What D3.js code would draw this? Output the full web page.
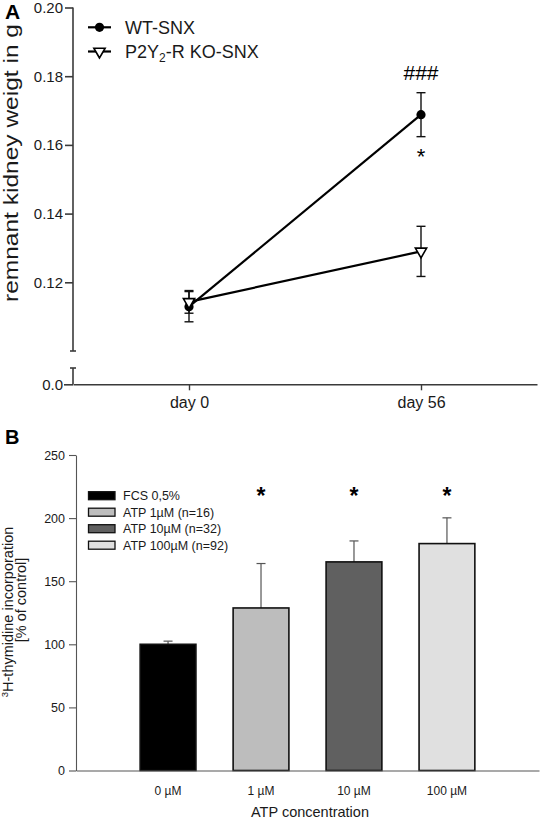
<!DOCTYPE html>
<html><head><meta charset="utf-8">
<script src="https://cdn.jsdelivr.net/npm/d3@7"></script>
<style>body{margin:0;background:#fff;} svg{display:block;font-family:Arial,"Liberation Sans",Helvetica,sans-serif;}</style>
</head><body>
<svg id="c" width="540" height="820"></svg>
<script>
// ---------- Panel A data ----------
const daysA = ["day 0", "day 56"];
const wtMean = [0.1129, 0.1688];
const wtSem = [0.0044, 0.0064];
const koMean = [0.1143, 0.1290];
const koSem = [0.0033, 0.0073];
const ticksA = [0.12, 0.14, 0.16, 0.18, 0.20];
const seriesA = ["WT-SNX", "P2Y2-R KO-SNX"];
const annotA = ["###", "*"];

// ---------- Panel B data ----------
const catsB = ["0 µM", "1 µM", "10 µM", "100 µM"];
const valsB = [100, 128.8, 165.3, 179.8];
const errB = [2.5, 35.2, 16.6, 20.4];
const legendB = ["FCS 0,5%", "ATP 1µM (n=16)", "ATP 10µM (n=32)", "ATP 100µM (n=92)"];
const sigB = ["", "*", "*", "*"];
const ticksB = [0, 50, 100, 150, 200, 250];
const colorsB = ["#000000", "#bdbdbd", "#606060", "#e0e0e0"];

const svg = d3.select("#c");

// ================= PANEL A =================
const gA = svg.append("g");
const yA = d3.scaleLinear().domain([0.10, 0.20]).range([351, 7.5]);
const yA0 = d3.scaleLinear().domain([0, 0.01]).range([384.3, 368]);
const xA = d3.scalePoint().domain(daysA).range([73, 537]).padding(0.5);
const axX = 73;

// y axis upper
const ya = gA.append("g").attr("transform", `translate(${axX},0)`)
  .call(d3.axisLeft(yA).tickValues(ticksA).tickSize(8).tickSizeOuter(0).tickFormat(d3.format(".2f")));
ya.select(".domain").remove();
ya.append("line").attr("x1", 0).attr("x2", 0).attr("y1", yA(0.20)).attr("y2", yA(0.10));
ya.append("line").attr("x1", -3).attr("x2", 3).attr("y1", yA(0.10)).attr("y2", yA(0.10));
// lower segment
const ya0 = gA.append("g").attr("transform", `translate(${axX},0)`)
  .call(d3.axisLeft(yA0).tickValues([0]).tickSize(9).tickSizeOuter(0).tickFormat(d3.format(".1f")));
ya0.select(".domain").remove();
ya0.append("line").attr("x1", 0).attr("x2", 0).attr("y1", yA0(0.01)).attr("y2", yA0(0));
ya0.append("line").attr("x1", -3).attr("x2", 3).attr("y1", yA0(0.01)).attr("y2", yA0(0.01));
[ya, ya0].forEach(g => {
  g.selectAll("line").attr("stroke", "#3a3a3a").attr("stroke-width", 1.6);
  g.selectAll("text").attr("font-size", 15).attr("fill", "#1a1a1a").attr("font-family", "Arial, Liberation Sans, sans-serif").attr("x", -10);
});

// x axis A
const xa = gA.append("g").attr("transform", `translate(0,${yA0(0)})`)
  .call(d3.axisBottom(xA).tickSize(6).tickSizeOuter(0).tickPadding(6));
xa.select(".domain").attr("stroke", "#3a3a3a").attr("stroke-width", 1.6);
xa.selectAll("line").attr("stroke", "#3a3a3a").attr("stroke-width", 1.4);
xa.selectAll("text").attr("font-size", 16).attr("fill", "#1a1a1a").attr("font-family", "Arial, Liberation Sans, sans-serif");

// y title A
gA.append("text").attr("transform", "translate(18,163) rotate(-90)").attr("text-anchor", "middle")
  .attr("font-size", 21).attr("textLength", 278).attr("lengthAdjust", "spacingAndGlyphs")
  .attr("fill", "#1a1a1a").text("remnant kidney weigt in g");
// panel label
gA.append("text").attr("x", 5).attr("y", 19).attr("font-size", 21).attr("font-weight", "bold").text("A");

// data lines
const line = d3.line().x((d, i) => xA(daysA[i])).y(d => yA(d));
function errBars(means, sems) {
  means.forEach((m, i) => {
    const x = xA(daysA[i]);
    gA.append("line").attr("x1", x).attr("x2", x).attr("y1", yA(m - sems[i])).attr("y2", yA(m + sems[i]))
      .attr("stroke", "#111").attr("stroke-width", 1.4);
    [m - sems[i], m + sems[i]].forEach(v => gA.append("line").attr("x1", x - 4.5).attr("x2", x + 4.5)
      .attr("y1", yA(v)).attr("y2", yA(v)).attr("stroke", "#111").attr("stroke-width", 1.4));
  });
}
errBars(wtMean, wtSem);
errBars(koMean, koSem);
gA.append("path").datum(wtMean).attr("d", line).attr("fill", "none").attr("stroke", "#000").attr("stroke-width", 2.2);
gA.append("path").datum(koMean).attr("d", line).attr("fill", "none").attr("stroke", "#000").attr("stroke-width", 2.2);
const tri = d3.symbol().type(d3.symbolTriangle).size(55);
wtMean.forEach((m, i) => gA.append("circle").attr("cx", xA(daysA[i])).attr("cy", yA(m)).attr("r", 4.6).attr("fill", "#000"));
koMean.forEach((m, i) => gA.append("path").attr("d", tri)
  .attr("transform", `translate(${xA(daysA[i])},${yA(m)}) rotate(180)`)
  .attr("fill", "#fff").attr("stroke", "#000").attr("stroke-width", 1.6));

// annotations
gA.append("text").attr("x", xA(daysA[1])).attr("y", 79.5).attr("text-anchor", "middle").attr("font-size", 21).text(annotA[0]);
gA.append("text").attr("x", xA(daysA[1])).attr("y", 164).attr("text-anchor", "middle").attr("font-size", 22).text(annotA[1]);

// legend A
const legA = gA.append("g");
[27.3, 51.5].forEach((y, i) => {
  legA.append("line").attr("x1", 88).attr("x2", 111).attr("y1", y).attr("y2", y).attr("stroke", "#000").attr("stroke-width", 2.2);
  if (i === 0) legA.append("circle").attr("cx", 99.5).attr("cy", y).attr("r", 4.6);
  else legA.append("path").attr("d", tri).attr("transform", `translate(99.5,${y}) rotate(180)`).attr("fill", "#fff").attr("stroke", "#000").attr("stroke-width", 1.6);
});
legA.append("text").attr("x", 125).attr("y", 33.5).attr("font-size", 18).attr("fill", "#1a1a1a").text(seriesA[0]);
const t2 = legA.append("text").attr("x", 125).attr("y", 58).attr("font-size", 18).attr("fill", "#1a1a1a");
t2.append("tspan").text("P2Y");
t2.append("tspan").attr("font-size", 12).attr("dy", 4).text("2");
t2.append("tspan").attr("dy", -4).text("-R KO-SNX");

// ================= PANEL B =================
const gB = svg.append("g");
const yB = d3.scaleLinear().domain([0, 250]).range([770.5, 455]);
const xB = d3.scaleBand().domain(catsB).range([76, 539]).paddingInner(0.4).paddingOuter(0.69);

const yb = gB.append("g").attr("transform", "translate(76,0)")
  .call(d3.axisLeft(yB).tickValues(ticksB).tickSize(7).tickSizeOuter(0).tickPadding(4));
yb.select(".domain").attr("stroke", "#555").attr("stroke-width", 1.1);
yb.selectAll("line").attr("stroke", "#555").attr("stroke-width", 1.1);
yb.selectAll("text").attr("font-size", 12.5).attr("fill", "#1a1a1a").attr("font-family", "Arial, Liberation Sans, sans-serif");

// bars
catsB.forEach((c, i) => {
  const x = xB(c), w = xB.bandwidth(), cx = x + w / 2;
  gB.append("line").attr("x1", cx).attr("x2", cx).attr("y1", yB(valsB[i])).attr("y2", yB(valsB[i] + errB[i]))
    .attr("stroke", "#555").attr("stroke-width", 1.2);
  gB.append("line").attr("x1", cx - 4.5).attr("x2", cx + 4.5).attr("y1", yB(valsB[i] + errB[i])).attr("y2", yB(valsB[i] + errB[i]))
    .attr("stroke", "#555").attr("stroke-width", 1.2);
  gB.append("rect").attr("x", x).attr("y", yB(valsB[i])).attr("width", w).attr("height", yB(0) - yB(valsB[i]))
    .attr("fill", colorsB[i]).attr("stroke", "#111").attr("stroke-width", 1.6);
  if (sigB[i]) gB.append("text").attr("x", cx).attr("y", 504).attr("text-anchor", "middle")
    .attr("font-size", 23).attr("font-weight", "bold").text(sigB[i]);
});

const xb = gB.append("g").attr("transform", `translate(0,${yB(0)})`)
  .call(d3.axisBottom(xB).tickSize(0).tickSizeOuter(0).tickPadding(16));
xb.select(".domain").attr("stroke", "#555").attr("stroke-width", 1.1);
xb.selectAll("text").attr("font-size", 12).attr("fill", "#1a1a1a").attr("font-family", "Arial, Liberation Sans, sans-serif");

// legend B
legendB.forEach((l, i) => {
  const y = 495.7 + i * 16.5;
  gB.append("rect").attr("x", 88.5).attr("y", y - 4).attr("width", 26.5).attr("height", 8)
    .attr("fill", colorsB[i]).attr("stroke", "#111").attr("stroke-width", 1.3);
  gB.append("text").attr("x", 123).attr("y", y + 4.5).attr("font-size", 12.5).attr("fill", "#1a1a1a").text(l);
});

// titles B
const yt = gB.append("text").attr("transform", "translate(13,612) rotate(-90)").attr("text-anchor", "middle")
  .attr("font-size", 14.5).attr("fill", "#1a1a1a");
yt.append("tspan").attr("font-size", 9.5).attr("dy", -5.5).text("3");
yt.append("tspan").attr("dy", 5.5).text("H-thymidine incorporation");
gB.append("text").attr("transform", "translate(25.5,600) rotate(-90)").attr("text-anchor", "middle")
  .attr("font-size", 14.5).attr("fill", "#1a1a1a").text("[% of control]");
gB.append("text").attr("x", 310).attr("y", 817).attr("text-anchor", "middle").attr("font-size", 14.5).attr("fill", "#1a1a1a").text("ATP concentration");
gB.append("text").attr("x", 5).attr("y", 444).attr("font-size", 20).attr("font-weight", "bold").text("B");
</script>
</body></html>
